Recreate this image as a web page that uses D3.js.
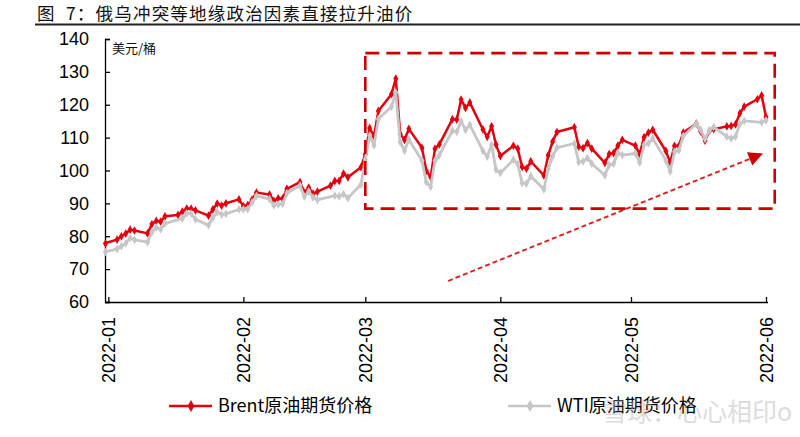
<!DOCTYPE html>
<html lang="zh">
<head>
<meta charset="UTF-8">
<title>俄乌冲突等地缘政治因素直接拉升油价</title>
<script src="https://d3js.org/d3.v7.min.js"></script>
<style>
  body { margin: 0; background: #fff; }
  text { font-family: "Liberation Sans", Arial, sans-serif; }
  .cjk { font-family: "Noto Sans CJK SC", "Noto Sans", sans-serif; }
</style>
</head>
<body>
<script>
// 交易日
var dates = [
  "2021-12-31",
  "2022-01-03","2022-01-04","2022-01-05","2022-01-06","2022-01-07","2022-01-10","2022-01-11","2022-01-12","2022-01-13","2022-01-14",
  "2022-01-17","2022-01-18","2022-01-19","2022-01-20","2022-01-21","2022-01-24","2022-01-25","2022-01-26","2022-01-27","2022-01-28","2022-01-31",
  "2022-02-01","2022-02-02","2022-02-03","2022-02-04","2022-02-07","2022-02-08","2022-02-09","2022-02-10","2022-02-11","2022-02-14",
  "2022-02-15","2022-02-16","2022-02-17","2022-02-18","2022-02-21","2022-02-22","2022-02-23","2022-02-24","2022-02-25","2022-02-28",
  "2022-03-01","2022-03-02","2022-03-03","2022-03-04","2022-03-07","2022-03-08","2022-03-09","2022-03-10","2022-03-11","2022-03-14",
  "2022-03-15","2022-03-16","2022-03-17","2022-03-18","2022-03-21","2022-03-22","2022-03-23","2022-03-24","2022-03-25","2022-03-28",
  "2022-03-29","2022-03-30","2022-03-31",
  "2022-04-01","2022-04-04","2022-04-05","2022-04-06","2022-04-07","2022-04-08","2022-04-11","2022-04-12","2022-04-13","2022-04-14",
  "2022-04-18","2022-04-19","2022-04-20","2022-04-21","2022-04-22","2022-04-25","2022-04-26","2022-04-27","2022-04-28","2022-04-29",
  "2022-05-02","2022-05-03","2022-05-04","2022-05-05","2022-05-06","2022-05-09","2022-05-10","2022-05-11","2022-05-12","2022-05-13",
  "2022-05-16","2022-05-17","2022-05-18","2022-05-19","2022-05-20","2022-05-23","2022-05-24","2022-05-25","2022-05-26","2022-05-27",
  "2022-05-30","2022-05-31","2022-06-01"
];

var brent = [
  77.78,
  78.98,80.00,80.80,81.99,81.75,80.87,83.72,84.67,84.47,86.06,
  86.48,87.51,88.44,88.38,87.89,86.27,88.20,89.96,89.34,90.03,91.21,
  89.16,89.47,91.11,93.27,92.69,90.78,91.55,91.41,94.44,96.48,
  93.28,94.81,92.97,93.54,95.39,96.84,96.84,99.08,97.93,100.99,
  104.97,112.93,110.46,118.11,123.21,127.98,111.14,109.33,112.67,106.90,
  99.91,98.02,106.64,107.93,115.62,115.48,121.60,119.03,120.65,112.48,
  110.23,113.45,107.91,
  104.39,107.53,106.64,101.07,100.58,102.78,98.48,104.64,108.78,111.70,
  113.16,107.25,106.80,108.33,106.65,102.32,104.99,105.32,107.59,109.34,
  107.58,104.97,110.14,111.55,112.39,105.94,102.46,107.51,107.45,111.55,
  114.24,111.93,109.11,112.04,112.55,113.42,113.56,114.03,117.40,119.43,
  121.67,122.84,116.29
];

// null = 当日无结算
var wti = [
  75.21,
  76.08,76.99,77.85,79.46,78.90,78.23,81.22,82.64,82.12,83.82,
  null,85.43,86.96,86.90,85.14,83.31,85.60,87.35,86.61,86.82,88.15,
  88.20,88.26,90.27,92.31,91.32,89.36,89.66,89.88,93.10,95.46,
  92.07,93.66,91.76,91.07,null,92.35,92.10,92.81,91.59,95.72,
  103.41,110.60,107.67,115.68,119.40,123.70,108.70,106.02,109.33,103.01,
  96.44,95.04,102.98,104.70,112.12,111.76,114.93,112.34,113.90,105.96,
  104.24,107.82,100.28,
  99.27,103.28,101.96,96.23,96.03,98.26,94.29,100.60,104.25,106.95,
  108.21,102.56,102.75,103.79,102.07,98.54,101.70,102.02,105.36,104.69,
  105.17,102.41,107.81,108.26,109.77,103.09,99.76,105.71,106.13,110.49,
  114.20,112.40,109.59,112.21,113.23,110.29,109.77,110.33,114.09,115.07,
  null,114.67,115.26
];

var yTicks = [60, 70, 80, 90, 100, 110, 120, 130, 140];
var xTicks = ["2022-01-01","2022-02-01","2022-03-01","2022-04-01","2022-05-01","2022-06-01"];
var seriesNames = ["Brent原油期货价格", "WTI原油期货价格"];

// 标注：虚线框与趋势箭头（数据坐标）
var boxDates = ["2022-03-01", "2022-06-03"];
var boxValues = [88.4, 135.7];
var arrowDates = ["2022-03-20", "2022-05-31"];
var arrowValues = [66.4, 105];

var width = 800, height = 437;
var parse = d3.isoParse;

var svg = d3.select("body").append("svg").attr("width", width).attr("height", height);

var x = d3.scaleTime().domain([parse("2021-12-31"), parse("2022-06-01")]).range([104, 766]);
var y = d3.scaleLinear().domain([60, 140]).range([302, 39]);

// 标题
svg.append("text").attr("class", "cjk")
  .attr("x", 37).attr("y", 20)
  .style("font-size", "17.5px").style("letter-spacing", "1.2px").style("white-space", "pre")
  .attr("fill", "#111")
  .text("图  7：俄乌冲突等地缘政治因素直接拉升油价");
svg.append("line").attr("x1", 35).attr("x2", 800).attr("y1", 24.5).attr("y2", 24.5)
  .attr("stroke", "#222").attr("stroke-width", 2);

// 坐标轴
var yAxis = svg.append("g").attr("transform", "translate(105,0)")
  .call(d3.axisLeft(y).tickValues(yTicks).tickSize(-5).tickSizeOuter(-5).tickPadding(16));
yAxis.selectAll("text").style("font-size", "18px").attr("fill", "#000");

var xAxis = svg.append("g").attr("transform", "translate(0,302)")
  .call(d3.axisBottom(x).tickValues(xTicks.map(parse)).tickSize(-5).tickSizeOuter(0)
    .tickFormat(d3.timeFormat("%Y-%m")));
xAxis.select(".domain").attr("d", "M105,0.5H768");
xAxis.selectAll("text")
  .style("font-size", "18px").attr("fill", "#000")
  .attr("transform", "rotate(-90)")
  .attr("text-anchor", "end")
  .attr("x", -15).attr("y", 0).attr("dy", "0.36em");
svg.selectAll(".domain, .tick line").attr("stroke", "#000").attr("stroke-width", 1.3);

svg.append("text").attr("class", "cjk")
  .attr("x", 112).attr("y", 53).style("font-size", "13px").attr("fill", "#111")
  .text("美元/桶");

// 数据线
var colors = ["#e3000f", "#c6c6c6"];
var lineGen = d3.line().x(function(d) { return x(d.date); }).y(function(d) { return y(d.value); });
var diamond = d3.symbol().type(d3.symbolDiamond).size(22);

[brent, wti].forEach(function(vals, k) {
  var pts = dates.map(function(d, i) { return { date: parse(d), value: vals[i] }; })
    .filter(function(d) { return d.value != null; });
  svg.append("path").datum(pts)
    .attr("fill", "none").attr("stroke", colors[k])
    .attr("stroke-width", k === 0 ? 2.5 : 2.8)
    .attr("stroke-linejoin", "round")
    .attr("d", lineGen);
  svg.append("g").selectAll("path").data(pts).enter().append("path")
    .attr("d", diamond)
    .attr("fill", colors[k])
    .attr("transform", function(d) { return "translate(" + Math.max(x(d.date), 105.5) + "," + y(d.value) + ")"; });
});

// 虚线框
svg.append("rect")
  .attr("x", x(parse(boxDates[0]))).attr("y", y(boxValues[1]))
  .attr("width", x(parse(boxDates[1])) - x(parse(boxDates[0])))
  .attr("height", y(boxValues[0]) - y(boxValues[1]))
  .attr("fill", "none").attr("stroke", "#cc0000").attr("stroke-width", 2.6)
  .attr("stroke-dasharray", "14 7");

// 趋势箭头
svg.append("defs").append("marker")
  .attr("id", "arrow").attr("viewBox", "0 0 10 10")
  .attr("refX", 9).attr("refY", 5)
  .attr("markerWidth", 9).attr("markerHeight", 8)
  .attr("markerUnits", "strokeWidth")
  .attr("orient", "auto")
  .append("path").attr("d", "M0,0L10,5L0,10Z").attr("fill", "#cc0000");
svg.append("line")
  .attr("x1", x(parse(arrowDates[0]))).attr("y1", y(arrowValues[0]))
  .attr("x2", x(parse(arrowDates[1]))).attr("y2", y(arrowValues[1]))
  .attr("stroke", "#dd1a1a").attr("stroke-width", 1.8)
  .attr("stroke-dasharray", "5 3")
  .attr("marker-end", "url(#arrow)");

// 图例
var legend = svg.append("g");
var legendX = [169, 508];
seriesNames.forEach(function(name, k) {
  var g = legend.append("g").attr("transform", "translate(" + legendX[k] + ",406)");
  g.append("line").attr("x1", 0).attr("x2", 43).attr("stroke", colors[k]).attr("stroke-width", 2.4);
  g.append("path").attr("d", d3.symbol().type(d3.symbolDiamond).size(40)).attr("fill", colors[k])
    .attr("transform", "translate(22,0)");
  g.append("text").attr("class", "cjk").attr("x", 49).attr("y", 0).attr("dy", "0.36em")
    .style("font-size", "18px").attr("fill", "#000").text(name);
});

// 水印
svg.append("text").attr("class", "cjk")
  .attr("x", 602).attr("y", 421)
  .style("font-size", "25px").attr("fill", "#bbb").attr("opacity", 0.5)
  .text("雪球：心心相印o");
</script>
</body>
</html>
